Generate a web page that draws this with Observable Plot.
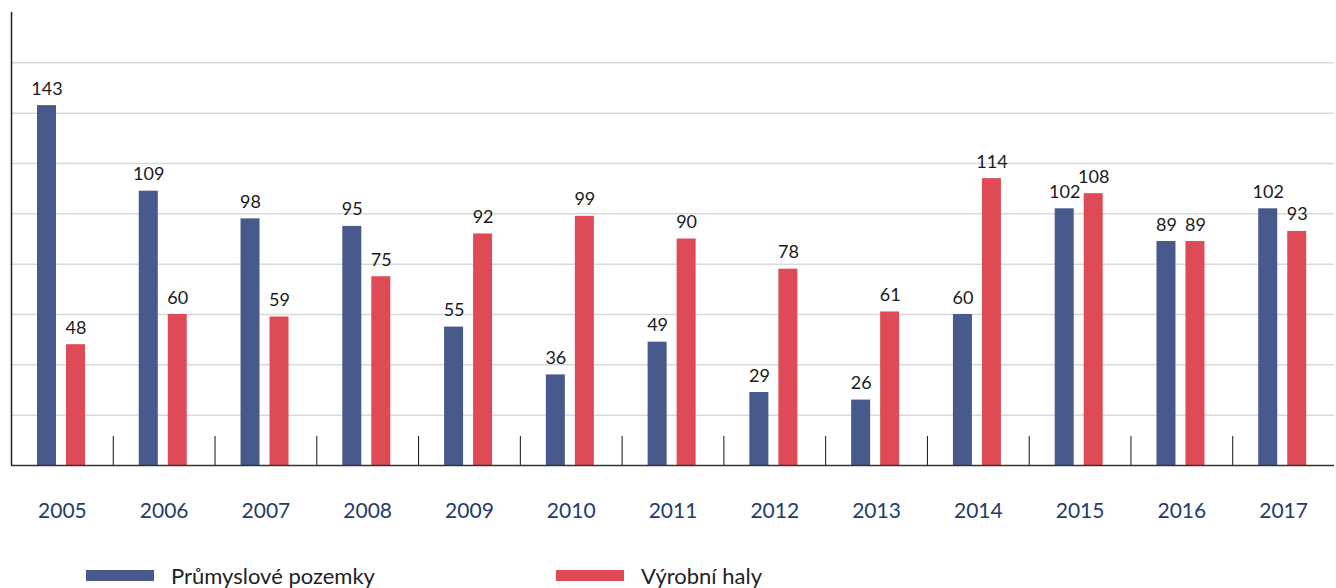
<!DOCTYPE html>
<html>
<head>
<meta charset="utf-8">
<script src="https://cdn.jsdelivr.net/npm/d3@7"></script>
<script src="https://cdn.jsdelivr.net/npm/@observablehq/plot@0.6"></script>
<style>
  html, body { margin: 0; padding: 0; background: #fff; }
  body { width: 1336px; height: 588px; overflow: hidden; font-family: Lato, "Noto Sans", sans-serif; }
  #chart svg { display: block; }
  .legend { position: relative; height: 58px; }
  .legend .item { position: absolute; top: 32px; display: flex; align-items: center; font-size: 22px; color: #222; }
  .legend .sw { width: 68px; height: 11px; margin-right: 17px; }
</style>
</head>
<body>
<div id="chart"></div>
<div class="legend" id="legend"></div>
<script>
// Years on the horizontal axis
const years = ["2005","2006","2007","2008","2009","2010","2011","2012","2013","2014","2015","2016","2017"];
// Series names
const seriesNames = ["Průmyslové pozemky", "Výrobní haly"];
// Values per year
const pozemky = [143, 109, 98, 95, 55, 36, 49, 29, 26, 60, 102, 89, 102];
const haly    = [48, 60, 59, 75, 92, 99, 90, 78, 61, 114, 108, 89, 93];
// Horizontal gridline values
const gridTicks = [20, 40, 60, 80, 100, 120, 140, 160];

const colors = ["#485a8c", "#de4a55"];

const width = 1336;
const marginLeft = 11, marginRight = 2;
const step = (width - marginLeft - marginRight) / years.length;
const barW = 19, leftGap = 26, barGap = 10;

// bar placement inside each year band
const insetsFor = (k) => {
  const left = leftGap + k * (barW + barGap);
  return {insetLeft: left, insetRight: step - left - barW, dxLabel: left + barW / 2 - step / 2};
};
const s0 = insetsFor(0), s1 = insetsFor(1);

const rows0 = years.map((y, i) => ({year: y, value: pozemky[i]}));
const rows1 = years.map((y, i) => ({year: y, value: haly[i]}));

const plot = Plot.plot({
  width,
  height: 530,
  marginLeft, marginRight,
  marginTop: 12,
  marginBottom: 65,
  style: {fontFamily: "Lato, 'Noto Sans', sans-serif", background: "#fff"},
  x: {type: "band", domain: years, padding: 0, round: false, axis: null},
  y: {domain: [0, 180], axis: null},
  marks: [
    Plot.ruleY(gridTicks, {stroke: "#d9d9d9", strokeWidth: 1.5}),
    Plot.barY(rows0, {x: "year", y: "value", fill: colors[0], insetLeft: s0.insetLeft, insetRight: s0.insetRight}),
    Plot.barY(rows1, {x: "year", y: "value", fill: colors[1], insetLeft: s1.insetLeft, insetRight: s1.insetRight}),
    Plot.text(rows0, {x: "year", y: "value", text: d => String(d.value), dx: s0.dxLabel, dy: -11, lineAnchor: "bottom", fontSize: 18, fill: "#1a1a1a"}),
    Plot.text(rows1, {x: "year", y: "value", text: d => String(d.value), dx: s1.dxLabel, dy: -11, lineAnchor: "bottom", fontSize: 18, fill: "#1a1a1a"}),
    // separators between years
    Plot.ruleX(years.slice(1), {x: d => d, y1: 0, y2: 11.5, dx: -step / 2, stroke: "#111", strokeWidth: 1}),
    Plot.ruleY([0], {stroke: "#333", strokeWidth: 1.5}),
    // vertical axis line
    Plot.ruleX([years[0]], {x: d => d, y1: 0, y2: 180, dx: -step / 2, stroke: "#222", strokeWidth: 1.5}),
    Plot.axisX({anchor: "bottom", label: null, tickSize: 0, tickPadding: 46, fontSize: 21, fill: "#1f3c6b", lineAnchor: "middle"})
  ]
});
document.getElementById("chart").appendChild(plot);

// legend
const legend = document.getElementById("legend");
const lefts = [86, 556];
seriesNames.forEach((name, k) => {
  const item = document.createElement("div");
  item.className = "item";
  item.style.left = lefts[k] + "px";
  const sw = document.createElement("span");
  sw.className = "sw";
  sw.style.background = colors[k];
  const label = document.createElement("span");
  label.textContent = name;
  item.appendChild(sw);
  item.appendChild(label);
  legend.appendChild(item);
});
</script>
</body>
</html>
